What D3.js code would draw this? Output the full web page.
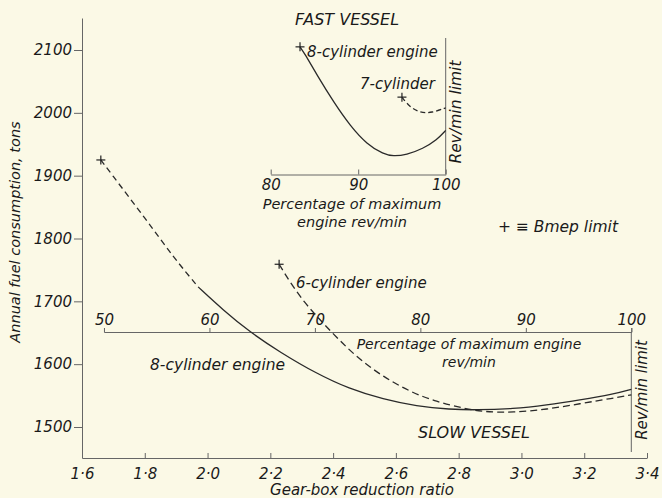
<!DOCTYPE html>
<html>
<head>
<meta charset="utf-8">
<script src="https://cdn.jsdelivr.net/npm/d3@7"></script>
<style>
  body { margin: 0; background: #fbf9e6; }
  svg { display: block; }
  text { font-family: "DejaVu Sans", sans-serif; font-style: italic; fill: #1a1a1a; }
  .axis path, .axis line { stroke: #666; stroke-width: 1; }
  .axis text { font-size: 15px; fill: #1a1a1a; }
</style>
</head>
<body>
<div id="chart"></div>
<script>
// slow vessel, plotted against gear-box ratio
var slowRatio8 = [1.66, 1.684, 1.806, 1.89, 1.97, 2.05, 2.135, 2.231, 2.347, 2.45, 2.56, 2.666, 2.772, 2.857, 2.974, 3.08, 3.186, 3.292, 3.35];
var slowFuel8  = [1925, 1909, 1829, 1771, 1723, 1686, 1651, 1619, 1585, 1561, 1544, 1533, 1528, 1527, 1529, 1535, 1543, 1552, 1560];
var slow8DashedTo = 1.97;
var slowRatio6 = [2.228, 2.262, 2.31, 2.363, 2.42, 2.485, 2.56, 2.645, 2.73, 2.814, 2.878, 2.974, 3.08, 3.186, 3.292, 3.35];
var slowFuel6  = [1759, 1731, 1697, 1668, 1638, 1607, 1580, 1556, 1540, 1530, 1524, 1523, 1528, 1537, 1546, 1551];

// fast vessel, plotted against percentage of max rev/min
var fastPct8  = [83.35, 83.9, 85.3, 87.2, 89.1, 91.0, 92.9, 94.0, 95.5, 97.4, 99.0, 100];
var fastFuel8 = [2105, 2094, 2060, 2017, 1979, 1950, 1934, 1931, 1933, 1943, 1957, 1972];
var fastPct7  = [95.0, 95.9, 97.1, 98.4, 100];
var fastFuel7 = [2025, 2009, 2000, 2000, 2008];

var ratioTicks = [1.6, 1.8, 2.0, 2.2, 2.4, 2.6, 2.8, 3.0, 3.2, 3.4];
var fuelTicks = [1500, 1600, 1700, 1800, 1900, 2000, 2100];
var slowPctTicks = [50, 60, 70, 80, 90, 100];
var fastPctTicks = [80, 90, 100];
var slowPctRatio = [1.67, 3.35];   // gear ratio where 50 % and 100 % sit

var width = 662, height = 498;
var svg = d3.select("#chart").append("svg")
    .attr("width", width)
    .attr("height", height);

var x = d3.scaleLinear().domain([1.6, 3.4]).range([82, 647]);
var y = d3.scaleLinear().domain([1500, 2100]).range([427, 50]);
var yTop = 18, xAxisY = 458;

var dotFmt = function(d){ return d3.format(".1f")(d).replace(".", "\u00b7"); };

// main y axis
var yAxisScale = y.copy().domain([y.invert(xAxisY), y.invert(yTop)]).range([xAxisY, yTop]);
svg.append("g")
    .attr("class", "axis")
    .attr("transform", "translate(" + x(1.6) + ",0)")
    .call(d3.axisLeft(yAxisScale).tickValues(fuelTicks).tickFormat(d3.format("d")).tickSizeInner(8).tickSizeOuter(0).tickPadding(2));

// main x axis
svg.append("g")
    .attr("class", "axis")
    .attr("transform", "translate(0," + xAxisY + ")")
    .call(d3.axisBottom(x).tickValues(ratioTicks).tickFormat(dotFmt).tickSizeInner(-5).tickSizeOuter(0).tickPadding(10));

svg.append("text")
    .attr("x", 362).attr("y", 495)
    .attr("text-anchor", "middle")
    .attr("font-size", 15)
    .text("Gear-box reduction ratio");

svg.append("text")
    .attr("transform", "translate(20,232) rotate(-90)")
    .attr("text-anchor", "middle")
    .attr("font-size", 14.5)
    .text("Annual fuel consumption, tons");

// percentage axis for the slow vessel
var pctSlow = d3.scaleLinear().domain([50, 100]).range([x(slowPctRatio[0]), x(slowPctRatio[1])]);
var pctAxisY = 332;
svg.append("g")
    .attr("class", "axis")
    .attr("transform", "translate(0," + pctAxisY + ")")
    .call(d3.axisTop(pctSlow).tickValues(slowPctTicks).tickSize(4).tickPadding(3));
svg.append("line")
    .attr("x1", pctSlow(100)).attr("x2", pctSlow(100))
    .attr("y1", pctAxisY).attr("y2", 452)
    .attr("stroke", "#666");
svg.append("text")
    .attr("transform", "translate(" + (pctSlow(100) + 16) + ",390) rotate(-90)")
    .attr("text-anchor", "middle")
    .attr("font-size", 15)
    .text("Rev/min limit");
svg.append("text")
    .attr("x", 469).attr("y", 349)
    .attr("text-anchor", "middle")
    .attr("font-size", 14)
    .text("Percentage of maximum engine");
svg.append("text")
    .attr("x", 469).attr("y", 367)
    .attr("text-anchor", "middle")
    .attr("font-size", 14)
    .text("rev/min");

// inset for the fast vessel
var pctFast = d3.scaleLinear().domain([80, 100]).range([270.7, 445.7]);
var insetAxisY = 174.5;
svg.append("g")
    .attr("class", "axis")
    .attr("transform", "translate(0," + insetAxisY + ")")
    .call(d3.axisBottom(pctFast).tickValues(fastPctTicks).tickSizeInner(-5).tickSizeOuter(0).tickPadding(5));
svg.append("line")
    .attr("x1", pctFast(100)).attr("x2", pctFast(100))
    .attr("y1", insetAxisY).attr("y2", 38)
    .attr("stroke", "#666");
svg.append("text")
    .attr("transform", "translate(" + (pctFast(100) + 15) + ",112) rotate(-90)")
    .attr("text-anchor", "middle")
    .attr("font-size", 15.5)
    .text("Rev/min limit");
svg.append("text")
    .attr("x", 352).attr("y", 209)
    .attr("text-anchor", "middle")
    .attr("font-size", 14.5)
    .text("Percentage of maximum");
svg.append("text")
    .attr("x", 352).attr("y", 227)
    .attr("text-anchor", "middle")
    .attr("font-size", 14.5)
    .text("engine rev/min");

// curves
var lineSlow = d3.line()
    .x(function(d){ return x(d[0]); })
    .y(function(d){ return y(d[1]); })
    .curve(d3.curveBasis);
var lineFast = d3.line()
    .x(function(d){ return pctFast(d[0]); })
    .y(function(d){ return y(d[1]); })
    .curve(d3.curveBasis);

var slow8 = d3.zip(slowRatio8, slowFuel8);
var slow6 = d3.zip(slowRatio6, slowFuel6);
var fast8 = d3.zip(fastPct8, fastFuel8);
var fast7 = d3.zip(fastPct7, fastFuel7);

var curves = svg.append("g").attr("fill", "none").attr("stroke", "#2a2a2a").attr("stroke-width", 1.3);
curves.append("path")
    .attr("d", lineSlow(slow8.filter(function(d){ return d[0] <= slow8DashedTo; })))
    .attr("stroke-dasharray", "6,4");
curves.append("path")
    .attr("d", lineSlow(slow8.filter(function(d){ return d[0] >= slow8DashedTo; })));
curves.append("path")
    .attr("d", lineSlow(slow6))
    .attr("stroke-dasharray", "7,4");
curves.append("path")
    .attr("d", lineFast(fast8));
curves.append("path")
    .attr("d", lineFast(fast7))
    .attr("stroke-dasharray", "5,3");

// Bmep limit crosses
var crosses = [
    [x(slow8[0][0]), y(slow8[0][1])],
    [x(slow6[0][0]), y(slow6[0][1])],
    [pctFast(fast8[0][0]), y(fast8[0][1])],
    [pctFast(fast7[0][0]), y(fast7[0][1])]
];
var cross = svg.append("g").attr("stroke", "#222").attr("stroke-width", 1.2);
crosses.forEach(function(c){
    cross.append("line").attr("x1", c[0] - 4.5).attr("x2", c[0] + 4.5).attr("y1", c[1]).attr("y2", c[1]);
    cross.append("line").attr("x1", c[0]).attr("x2", c[0]).attr("y1", c[1] - 4.5).attr("y2", c[1] + 4.5);
});

// labels
var labels = [
    {t: "FAST VESSEL", x: 295, y: 25, s: 16},
    {t: "8-cylinder engine", x: 307, y: 57, s: 15},
    {t: "7-cylinder", x: 360, y: 89, s: 15},
    {t: "+ \u2261 Bmep limit", x: 498, y: 232, s: 15.5},
    {t: "6-cylinder engine", x: 296, y: 288, s: 15},
    {t: "8-cylinder engine", x: 150, y: 370, s: 15.5},
    {t: "SLOW VESSEL", x: 418, y: 438, s: 16}
];
svg.append("g").selectAll("text")
    .data(labels)
    .enter()
    .append("text")
    .attr("x", function(d){ return d.x; })
    .attr("y", function(d){ return d.y; })
    .attr("font-size", function(d){ return d.s; })
    .text(function(d){ return d.t; });
</script>
</body>
</html>
